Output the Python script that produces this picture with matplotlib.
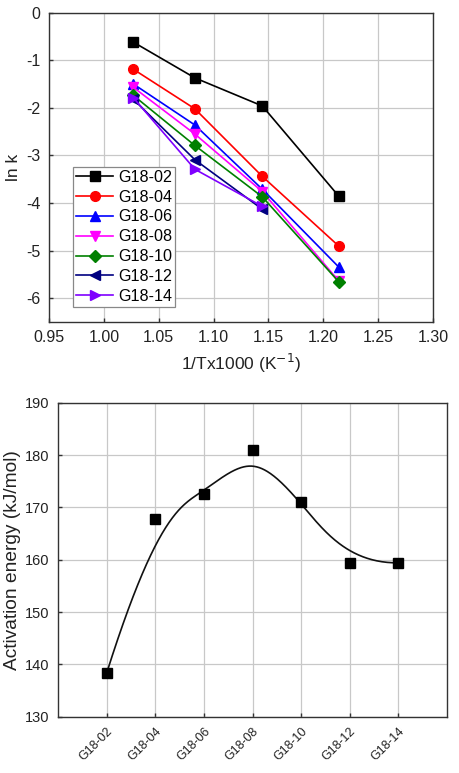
import numpy as np
import matplotlib
matplotlib.use("Agg")
import matplotlib.pyplot as plt

plt.rcParams['font.family'] = ['Liberation Sans', 'DejaVu Sans']

# ---- data: top panel (Arrhenius plot) ----
inv_T = [1.027, 1.083, 1.1445, 1.214]
samples = ['G18-02', 'G18-04', 'G18-06', 'G18-08', 'G18-10', 'G18-12', 'G18-14']
lnk_02 = [-0.62, -1.37, -1.96, -3.85]
lnk_04 = [-1.19, -2.02, -3.44, -4.90]
lnk_06 = [-1.50, -2.36, -3.71, -5.34]
lnk_08 = [-1.57, -2.55, -3.76, -5.63]
lnk_10 = [-1.74, -2.79, -3.87, -5.65]
lnk_12 = [-1.82, -3.09, -4.13]
lnk_14 = [-1.79, -3.29, -4.07]

# ---- data: bottom panel (activation energy) ----
Ea = [138.3, 167.7, 172.6, 180.9, 171.0, 159.3, 159.4]

series = [lnk_02, lnk_04, lnk_06, lnk_08, lnk_10, lnk_12, lnk_14]
colors = ['#000000', '#ff0000', '#0000ff', '#ff00ff', '#008000', '#000080', '#7f00ff']
markers = ['s', 'o', '^', 'v', 'D', '<', '>']

fig = plt.figure(figsize=(4.6, 7.73), dpi=100)

# ---------- top panel ----------
ax1 = fig.add_axes([0.1065, 0.5834, 0.8345, 0.4002])
for vals, c, m, lab in zip(series, colors, markers, samples):
    ax1.plot(inv_T[:len(vals)], vals, color=c, marker=m, markersize=7 if m != 'D' else 6,
             linewidth=1.2, label=lab, zorder=3)
ax1.set_xlim(0.95, 1.30)
ax1.set_ylim(-6.5, 0)
ax1.set_xticks(np.arange(0.95, 1.3001, 0.05))
ax1.set_xticklabels(['%.2f' % v for v in np.arange(0.95, 1.3001, 0.05)])
ax1.set_yticks(range(-6, 1))
ax1.set_yticklabels(['%d' % v for v in range(-6, 1)])
ax1.grid(True, color='#c8c8c8', linewidth=0.9, zorder=0)
ax1.set_axisbelow(True)
ax1.tick_params(direction='in', length=3, width=1, labelsize=11.5, colors='#333333',
                labelcolor='#222222', pad=6)
for s in ax1.spines.values():
    s.set_color('#333333')
    s.set_linewidth(1.0)
ax1.set_xlabel('1/Tx1000 (K$^{-1}$)', fontsize=12.5, labelpad=5, color='#222222')
ax1.set_ylabel('ln k', fontsize=12.5, labelpad=4, color='#222222')
leg = ax1.legend(loc='lower left', bbox_to_anchor=(0.0625, 0.0485), borderaxespad=0,
                 fontsize=11.6, handlelength=2.3, handletextpad=0.3, labelspacing=0.3,
                 borderpad=0.2, fancybox=False, framealpha=1, edgecolor='#888888')
leg.get_frame().set_linewidth(0.9)

# ---------- bottom panel ----------
def bspline(cx, cy, n=300, k=3):
    cx = np.asarray(cx, float)
    cy = np.asarray(cy, float)
    m = len(cx)
    knots = np.concatenate([np.zeros(k), np.linspace(0, 1, m - k + 1), np.ones(k)])
    t = np.linspace(0, 1, n)
    t[-1] -= 1e-10
    # Cox-de Boor
    B = np.zeros((n, len(knots) - 1))
    for i in range(len(knots) - 1):
        B[:, i] = ((t >= knots[i]) & (t < knots[i + 1])).astype(float)
    for d in range(1, k + 1):
        Bn = np.zeros((n, len(knots) - 1 - d))
        for i in range(len(knots) - 1 - d):
            a = knots[i + d] - knots[i]
            b = knots[i + d + 1] - knots[i + 1]
            term = 0
            if a > 0:
                term = term + (t - knots[i]) / a * B[:, i]
            if b > 0:
                term = term + (knots[i + d + 1] - t) / b * B[:, i + 1]
            Bn[:, i] = term
        B = Bn
    return B @ cx, B @ cy

ax2 = fig.add_axes([0.126, 0.0728, 0.846, 0.4063])
xpos = np.arange(len(samples))
sx, sy = bspline(xpos, Ea)
ax2.plot(sx, sy, color='#111111', linewidth=1.2, zorder=3)
ax2.plot(xpos, Ea, linestyle='none', marker='s', markersize=7.5, color='#000000', zorder=4)
ax2.set_xlim(-1, 7)
ax2.set_ylim(130, 190)
ax2.set_xticks(xpos)
ax2.set_xticklabels(samples, rotation=45, ha='right', rotation_mode='anchor', fontsize=9)
ax2.set_yticks(range(130, 191, 10))
ax2.grid(True, color='#c8c8c8', linewidth=0.9, zorder=0)
ax2.set_axisbelow(True)
ax2.tick_params(direction='in', length=3, width=1, colors='#333333', labelcolor='#222222')
ax2.tick_params(axis='y', labelsize=10.5, pad=6)
ax2.tick_params(axis='x', pad=6)
for s in ax2.spines.values():
    s.set_color('#333333')
    s.set_linewidth(1.0)
ax2.set_ylabel('Activation energy (kJ/mol)', fontsize=13.8, labelpad=3, color='#222222')

fig.savefig('out.png', dpi=100)
